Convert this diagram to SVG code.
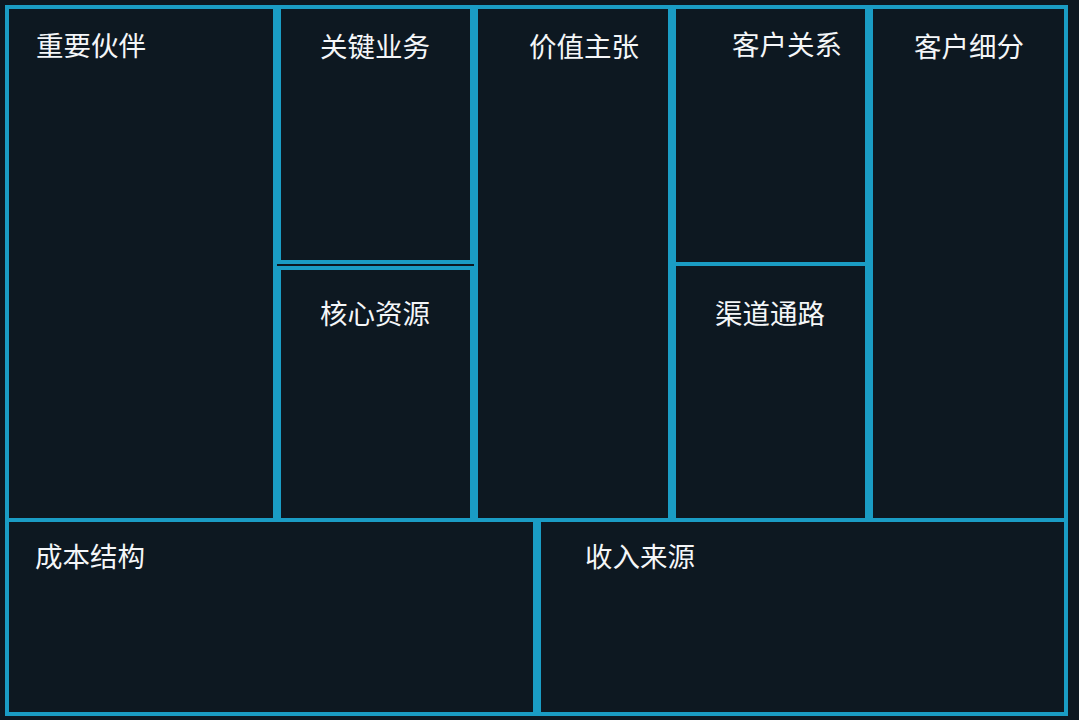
<svg xmlns="http://www.w3.org/2000/svg" width="1079" height="720" viewBox="0 0 1079 720">
<style>
.cell{fill:#0d1821;stroke:#1a9cc4;stroke-width:4}
.lbl{fill:#f4f6f8;font-family:"Noto Sans CJK SC","Noto Sans",sans-serif;font-size:27.5px}
</style>
<rect x="0" y="0" width="1079" height="720" fill="#0d1821"/>
<g id="partners"><rect class="cell" x="7" y="7" width="268" height="513"/><text class="lbl" x="36" y="56">重要伙伴</text></g>
<g id="activities"><rect class="cell" x="279" y="7" width="193" height="255"/><text class="lbl" x="320" y="57">关键业务</text></g>
<g id="resources"><rect class="cell" x="279" y="268" width="193" height="252"/><text class="lbl" x="320" y="324">核心资源</text></g>
<g id="value"><rect class="cell" x="476" y="7" width="194" height="513"/><text class="lbl" x="529" y="57">价值主张</text></g>
<g id="relationships"><rect class="cell" x="674" y="7" width="193" height="257"/><text class="lbl" x="732" y="55">客户关系</text></g>
<g id="channels"><rect class="cell" x="674" y="264" width="193" height="256"/><text class="lbl" x="715" y="324">渠道通路</text></g>
<g id="segments"><rect class="cell" x="871" y="7" width="195" height="513"/><text class="lbl" x="914" y="57">客户细分</text></g>
<g id="cost"><rect class="cell" x="7" y="520" width="528" height="194"/><text class="lbl" x="35" y="567">成本结构</text></g>
<g id="revenue"><rect class="cell" x="539" y="520" width="527" height="194"/><text class="lbl" x="585" y="567">收入来源</text></g>
<g id="connectors"></g>
</svg>
